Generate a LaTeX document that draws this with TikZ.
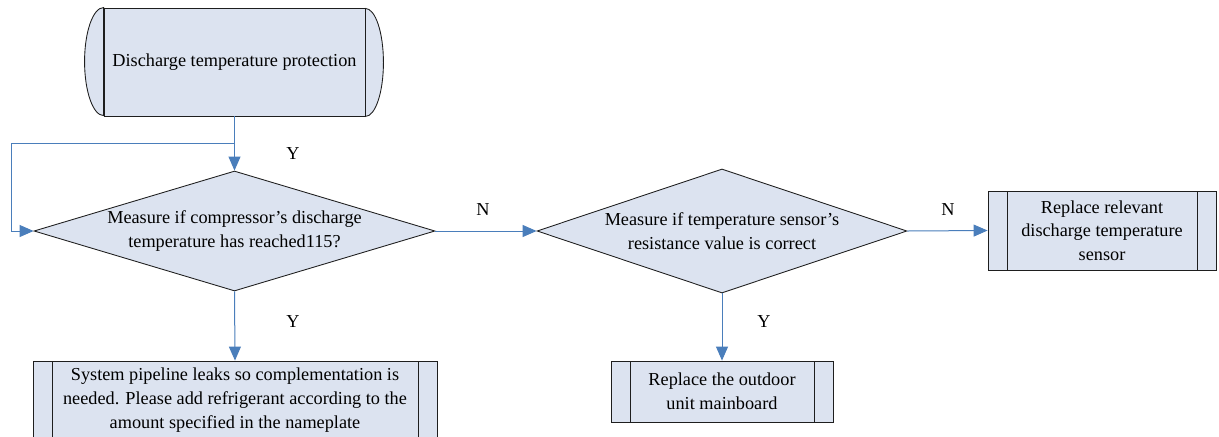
\documentclass[tikz,border=0pt]{standalone}
\usepackage{fontspec}
\setmainfont{Liberation Serif}
\usetikzlibrary{shapes.geometric,arrows.meta}
\definecolor{boxfill}{RGB}{220,227,240}
\definecolor{connblue}{RGB}{74,126,187}
\definecolor{edge}{RGB}{30,30,30}
\tikzset{
  txt/.style={font=\fontsize{13.7pt}{17.8pt}\selectfont, align=center},
  shapeline/.style={draw=edge, line width=0.65pt, fill=boxfill},
  decision/.style={shapeline, txt, diamond, inner sep=0pt},
  procbox/.style={shapeline, txt, rectangle, inner sep=0pt,
    path picture={
      \draw[edge, line width=0.65pt]
        ([xshift=14.25pt]path picture bounding box.north west) --
        ([xshift=14.25pt]path picture bounding box.south west);
      \draw[edge, line width=0.65pt]
        ([xshift=-14.25pt]path picture bounding box.north east) --
        ([xshift=-14.25pt]path picture bounding box.south east);
    }},
  startbox/.style={shapeline, txt, rectangle, inner sep=0pt},
  conn/.style={draw=connblue, line width=0.75pt,
    -{Triangle[length=10.5pt,width=9pt,fill=connblue]}},
  lbl/.style={txt, inner sep=0pt}
}
\begin{document}
\begin{tikzpicture}[x=0.75pt, y=-0.75pt]
  \useasboundingbox (0,0) rectangle (1219,436);
  \fill[white] (0,0) rectangle (1219,436);

  % start terminator with rounded ends
  \node[startbox, minimum width=195.75pt, minimum height=81pt]
    (term) at (234.5,62) {Discharge temperature protection};
  \filldraw[shapeline] (term.north west)
    arc[start angle=90, end angle=270, x radius=14.25pt, y radius=40.5pt] -- cycle;
  \filldraw[shapeline] (term.south east)
    arc[start angle=-90, end angle=90, x radius=13.5pt, y radius=40.5pt] -- cycle;

  % decisions
  \node[decision, minimum width=300.75pt, minimum height=90pt, aspect=3.34]
    (d1) at (234.5,231) {Measure if compressor’s discharge\\temperature has reached115?};
  \node[decision, minimum width=277.5pt, minimum height=93pt, aspect=2.98]
    (d2) at (722,231) {Measure if temperature sensor’s\\resistance value is correct};

  % process boxes
  \node[procbox, minimum width=171pt, minimum height=59.25pt]
    (b3) at (1102,230.5) {Replace relevant\\discharge temperature\\sensor};
  \node[procbox, minimum width=303pt, minimum height=58.5pt]
    (b1) at (235,400) {System pipeline leaks so complementation is\\needed. Please add refrigerant according to the\\amount specified in the nameplate};
  \node[procbox, minimum width=166.5pt, minimum height=45.75pt]
    (b2) at (722,391.5) {Replace the outdoor\\unit mainboard};

  % connectors
  \coordinate (split) at (234.5,143);
  \coordinate (loop) at (11,143);
  \draw[conn] (term.south) -- (d1.north);
  \draw[conn] (split) -- (loop) |- (d1.west);
  \draw[conn] (d1.east) -- (d2.west);
  \draw[conn] (d2.east) -- (b3.west);
  \draw[conn] (d1.south) -- (b1.north);
  \draw[conn] (d2.south) -- (b2.north);

  % branch labels
  \node[lbl] (y1) at (293,154) {Y};
  \node[lbl] (n1) at (483,210) {N};
  \node[lbl] (n2) at (948,210) {N};
  \node[lbl] (y2) at (293,322) {Y};
  \node[lbl] (y3) at (764,322) {Y};
\end{tikzpicture}
\end{document}
